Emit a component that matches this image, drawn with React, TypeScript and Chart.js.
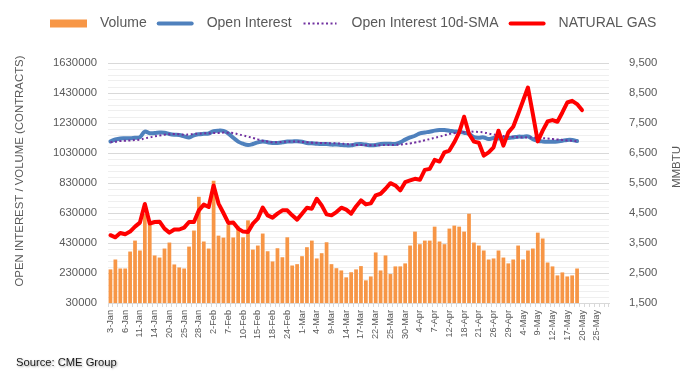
import React, { useEffect, useRef } from "react";
import { Chart, registerables } from "chart.js";

Chart.register(...registerables);

const categories = [
  "3-Jan", "4-Jan", "5-Jan", "6-Jan", "7-Jan", "10-Jan", "11-Jan", "12-Jan", "13-Jan", "14-Jan",
  "18-Jan", "19-Jan", "20-Jan", "21-Jan", "24-Jan", "25-Jan", "26-Jan", "27-Jan", "28-Jan", "31-Jan",
  "1-Feb", "2-Feb", "3-Feb", "4-Feb", "7-Feb", "8-Feb", "9-Feb", "10-Feb", "11-Feb", "14-Feb",
  "15-Feb", "16-Feb", "17-Feb", "18-Feb", "22-Feb", "23-Feb", "24-Feb", "25-Feb", "28-Feb",
  "1-Mar", "2-Mar", "3-Mar", "4-Mar", "7-Mar", "8-Mar", "9-Mar", "10-Mar", "11-Mar", "14-Mar",
  "15-Mar", "16-Mar", "17-Mar", "18-Mar", "21-Mar", "22-Mar", "23-Mar", "24-Mar", "25-Mar", "28-Mar",
  "29-Mar", "30-Mar", "31-Mar",
  "1-Apr", "4-Apr", "5-Apr", "6-Apr", "7-Apr", "8-Apr", "11-Apr", "12-Apr", "13-Apr", "14-Apr",
  "18-Apr", "19-Apr", "20-Apr", "21-Apr", "22-Apr", "25-Apr", "26-Apr", "27-Apr", "28-Apr", "29-Apr",
  "2-May", "3-May", "4-May", "5-May", "6-May", "9-May", "10-May", "11-May", "12-May", "13-May",
  "16-May", "17-May", "18-May", "19-May", "20-May", "23-May", "24-May", "25-May", "26-May", "27-May",
];

const volume = [
  254000, 320000, 260000, 260000, 373000, 446000, 380000, 625000, 570000, 347000,
  333000, 393000, 433000, 287000, 267000, 260000, 406000, 513000, 738000, 440000,
  393000, 845000, 479000, 466000, 553000, 467000, 540000, 468000, 581000, 386000,
  413000, 493000, 375000, 307000, 395000, 335000, 468000, 280000, 289000, 342000,
  402000, 446000, 327000, 362000, 435000, 289000, 262000, 247000, 201000, 235000,
  254000, 276000, 181000, 207000, 367000, 247000, 347000, 223000, 274000, 274000,
  294000, 413000, 506000, 422000, 446000, 446000, 539000, 440000, 422000, 526000,
  546000, 539000, 506000, 625000, 433000, 413000, 380000, 320000, 327000, 380000,
  333000, 294000, 320000, 413000, 320000, 380000, 393000, 499000, 460000, 300000,
  274000, 214000, 234000, 207000, 214000, 260000,
];

const openInterest = [
  1107000, 1120000, 1127000, 1128000, 1128000, 1132000, 1136000, 1173000, 1162000, 1163000,
  1166000, 1165000, 1157000, 1152000, 1150000, 1141000, 1133000, 1148000, 1155000, 1158000,
  1160000, 1176000, 1179000, 1177000, 1160000, 1132000, 1106000, 1092000, 1084000, 1090000,
  1101000, 1107000, 1101000, 1097000, 1097000, 1101000, 1107000, 1107000, 1108000, 1105000,
  1097000, 1095000, 1092000, 1090000, 1090000, 1086000, 1086000, 1083000, 1081000, 1081000,
  1088000, 1090000, 1086000, 1081000, 1083000, 1090000, 1092000, 1092000, 1090000, 1101000,
  1119000, 1134000, 1145000, 1161000, 1167000, 1172000, 1179000, 1183000, 1183000, 1179000,
  1174000, 1172000, 1165000, 1157000, 1136000, 1132000, 1134000, 1123000, 1130000, 1126000,
  1130000, 1130000, 1134000, 1139000, 1139000, 1141000, 1123000, 1112000, 1107000, 1105000,
  1105000, 1107000, 1112000, 1117000, 1117000, 1110000,
];

const openInterestSma = [
  1101000, 1105000, 1110000, 1112000, 1114000, 1116000, 1119000, 1128000, 1134000, 1141000,
  1147000, 1152000, 1155000, 1157000, 1155000, 1152000, 1154000, 1157000, 1159000, 1161000,
  1162000, 1163000, 1164000, 1166000, 1165000, 1163000, 1155000, 1147000, 1139000, 1130000,
  1121000, 1112000, 1106000, 1101000, 1102000, 1104000, 1106000, 1107000, 1106000, 1104000,
  1102000, 1099000, 1098000, 1097000, 1096000, 1095000, 1094000, 1092000, 1090000, 1087000,
  1084000, 1083000, 1082000, 1081000, 1082000, 1082000, 1083000, 1083000, 1084000, 1086000,
  1090000, 1094000, 1100000, 1107000, 1115000, 1123000, 1131000, 1139000, 1148000, 1157000,
  1162000, 1167000, 1170000, 1173000, 1172000, 1170000, 1167000, 1160000, 1154000, 1147000,
  1143000, 1140000, 1138000, 1135000, 1134000, 1134000, 1133000, 1131000, 1129000, 1126000,
  1123000, 1120000, 1117000, 1114000, 1112000, 1108000,
];

const naturalGas = [
  3760, 3690, 3834, 3790, 3880, 4045, 4180, 4800, 4150, 4200,
  4210, 3980, 3847, 3950, 3950, 4013, 4200, 4200, 4588, 4780,
  4700, 5418, 4815, 4500, 4170, 4180, 3980, 3880, 3870, 4146,
  4312, 4677, 4422, 4345, 4478, 4588, 4588, 4422, 4279, 4478,
  4677, 4644, 4976, 4753, 4455, 4422, 4532, 4677, 4611, 4478,
  4720, 4920, 4787, 4820, 5086, 5142, 5308, 5494, 5418, 5252,
  5527, 5584, 5640, 5607, 5938, 5972, 6270, 6214, 6523, 6580,
  6855, 7187, 7708, 7134, 6880, 6840, 6414, 6523, 6690, 7244,
  6746, 7187, 7376, 7797, 8240, 8682, 7797, 6888, 7244, 7552,
  7598, 7542, 7851, 8183, 8240, 8130, 7930,
];

const LEFT_MIN = 30000;
const LEFT_MAX = 1630000;
const LEFT_MAJOR_STEP = 200000;
const LEFT_MINOR_STEP = 40000;
const RIGHT_MIN = 1500;
const RIGHT_MAX = 9500;
const RIGHT_STEP = 1000;
const LABEL_EVERY = 3;

const seriesNames = ["Volume", "Open Interest", "Open Interest 10d-SMA", "NATURAL GAS"];
const leftTitle = "OPEN INTEREST / VOLUME (CONTRACTS)";
const rightTitle = "MMBTU";
const sourceText = "Source: CME Group";

const COLORS = {
  volume: "#F79646",
  oi: "#4F81BD",
  sma: "#7030A0",
  gas: "#FF0000",
  text: "#595959",
  gridMajor: "#d9d9d9",
  gridMinor: "#efefef",
};

const FONT = "'Liberation Sans', Arial, sans-serif";

const overlayPlugin = {
  id: "overlay",
  afterDraw(chart: any) {
    const ctx = chart.ctx as CanvasRenderingContext2D;
    ctx.save();
    // Legend
    const cy = 23.5;
    ctx.font = `14px ${FONT}`;
    ctx.textBaseline = "middle";
    ctx.textAlign = "left";
    let x = 50;
    const symW = 37;
    const gapAfterSym = 13;
    const gapAfterText = 10;
    seriesNames.forEach((name, i) => {
      if (i === 0) {
        ctx.fillStyle = COLORS.volume;
        ctx.fillRect(x, cy - 4, symW, 8);
      } else {
        ctx.beginPath();
        ctx.lineCap = i === 2 ? "butt" : "round";
        ctx.strokeStyle = i === 1 ? COLORS.oi : i === 2 ? COLORS.sma : COLORS.gas;
        ctx.lineWidth = i === 2 ? 2 : 4;
        ctx.setLineDash(i === 2 ? [2, 2.5] : []);
        ctx.moveTo(x + 2, cy);
        ctx.lineTo(x + symW - 2, cy);
        ctx.stroke();
        ctx.setLineDash([]);
      }
      x += symW + gapAfterSym;
      ctx.fillStyle = COLORS.text;
      ctx.fillText(name, x, cy);
      x += ctx.measureText(name).width + gapAfterText;
    });

    // Axis titles
    ctx.fillStyle = COLORS.text;
    ctx.textAlign = "center";
    ctx.textBaseline = "middle";
    ctx.font = `11.4px ${FONT}`;
    ctx.save();
    ctx.translate(20, 171);
    ctx.rotate(-Math.PI / 2);
    ctx.fillText(leftTitle, 0, 0);
    ctx.restore();

    ctx.font = `11.5px ${FONT}`;
    ctx.save();
    ctx.translate(677, 167);
    ctx.rotate(-Math.PI / 2);
    ctx.fillText(rightTitle, 0, 0);
    ctx.restore();

    // Source
    ctx.font = `11.2px ${FONT}`;
    ctx.textAlign = "left";
    ctx.fillStyle = "#1a1a1a";
    ctx.shadowColor = "rgba(0,0,0,0.35)";
    ctx.shadowBlur = 2;
    ctx.shadowOffsetX = 1;
    ctx.shadowOffsetY = 1;
    ctx.fillText(sourceText, 16, 363);
    ctx.restore();
  },
};

export default function App() {
  const canvasRef = useRef<HTMLCanvasElement | null>(null);

  useEffect(() => {
    if (!canvasRef.current) return;
    const chart = new Chart(canvasRef.current, {
      type: "bar",
      data: {
        labels: categories,
        datasets: [
          {
            type: "line",
            label: seriesNames[3],
            data: naturalGas,
            yAxisID: "y2",
            borderColor: COLORS.gas,
            backgroundColor: COLORS.gas,
            borderWidth: 4,
            pointRadius: 0,
            tension: 0,
            borderJoinStyle: "round",
            borderCapStyle: "round",
            order: 0,
          },
          {
            type: "line",
            label: seriesNames[2],
            data: openInterestSma,
            yAxisID: "y",
            borderColor: COLORS.sma,
            backgroundColor: COLORS.sma,
            borderWidth: 2,
            borderDash: [2, 2.5],
            pointRadius: 0,
            tension: 0.4,
            order: 1,
          },
          {
            type: "line",
            label: seriesNames[1],
            data: openInterest,
            yAxisID: "y",
            borderColor: COLORS.oi,
            backgroundColor: COLORS.oi,
            borderWidth: 4,
            pointRadius: 0,
            tension: 0.4,
            borderCapStyle: "round",
            borderJoinStyle: "round",
            order: 2,
          },
          {
            type: "bar",
            label: seriesNames[0],
            data: volume,
            yAxisID: "y",
            backgroundColor: COLORS.volume,
            borderWidth: 0,
            barPercentage: 0.76,
            categoryPercentage: 1,
            order: 3,
          },
        ],
      },
      options: {
        responsive: false,
        animation: false,
        devicePixelRatio: 1,
        layout: { padding: { top: 63, left: 0, right: 0, bottom: 0 } },
        plugins: {
          legend: { display: false },
          tooltip: { enabled: false },
          title: { display: false },
        },
        scales: {
          x: {
            offset: true,
            grid: {
              display: true,
              drawOnChartArea: false,
              drawTicks: true,
              tickLength: 4,
              color: COLORS.gridMajor,
              offset: true,
            },
            border: { display: true, color: COLORS.gridMajor },
            ticks: {
              autoSkip: false,
              minRotation: 90,
              maxRotation: 90,
              padding: 3,
              color: COLORS.text,
              font: { family: FONT, size: 9.2 },
              callback: (_v: any, index: number) =>
                index % LABEL_EVERY === 0 ? categories[index] : "",
            },
            afterFit: (s: any) => {
              s.height = 83;
            },
          },
          y: {
            position: "left",
            min: LEFT_MIN,
            max: LEFT_MAX,
            grid: {
              drawTicks: false,
              color: (c: any) => {
                const v = c.tick ? c.tick.value : 0;
                return (v - LEFT_MIN) % LEFT_MAJOR_STEP === 0 ? COLORS.gridMajor : COLORS.gridMinor;
              },
            },
            border: { display: false },
            ticks: {
              stepSize: LEFT_MINOR_STEP,
              autoSkip: false,
              padding: 11,
              color: COLORS.text,
              font: { family: FONT, size: 11.3 },
              callback: (v: any) =>
                (Number(v) - LEFT_MIN) % LEFT_MAJOR_STEP === 0 ? String(v) : "",
            },
            afterFit: (s: any) => {
              s.width = 108;
            },
          },
          y2: {
            position: "right",
            min: RIGHT_MIN,
            max: RIGHT_MAX,
            grid: { display: false, drawOnChartArea: false },
            border: { display: false },
            ticks: {
              stepSize: RIGHT_STEP,
              padding: 12,
              color: COLORS.text,
              font: { family: FONT, size: 11.3 },
              callback: (v: any) => Number(v).toLocaleString("en-US"),
            },
            afterFit: (s: any) => {
              s.width = 84;
            },
          },
        },
      },
      plugins: [overlayPlugin],
    } as any);
    return () => chart.destroy();
  }, []);

  return (
    <div style={{ position: "fixed", left: 0, top: 0, width: 693, height: 386, background: "#fff" }}>
      <canvas ref={canvasRef} width={693} height={386} style={{ display: "block" }} />
    </div>
  );
}
